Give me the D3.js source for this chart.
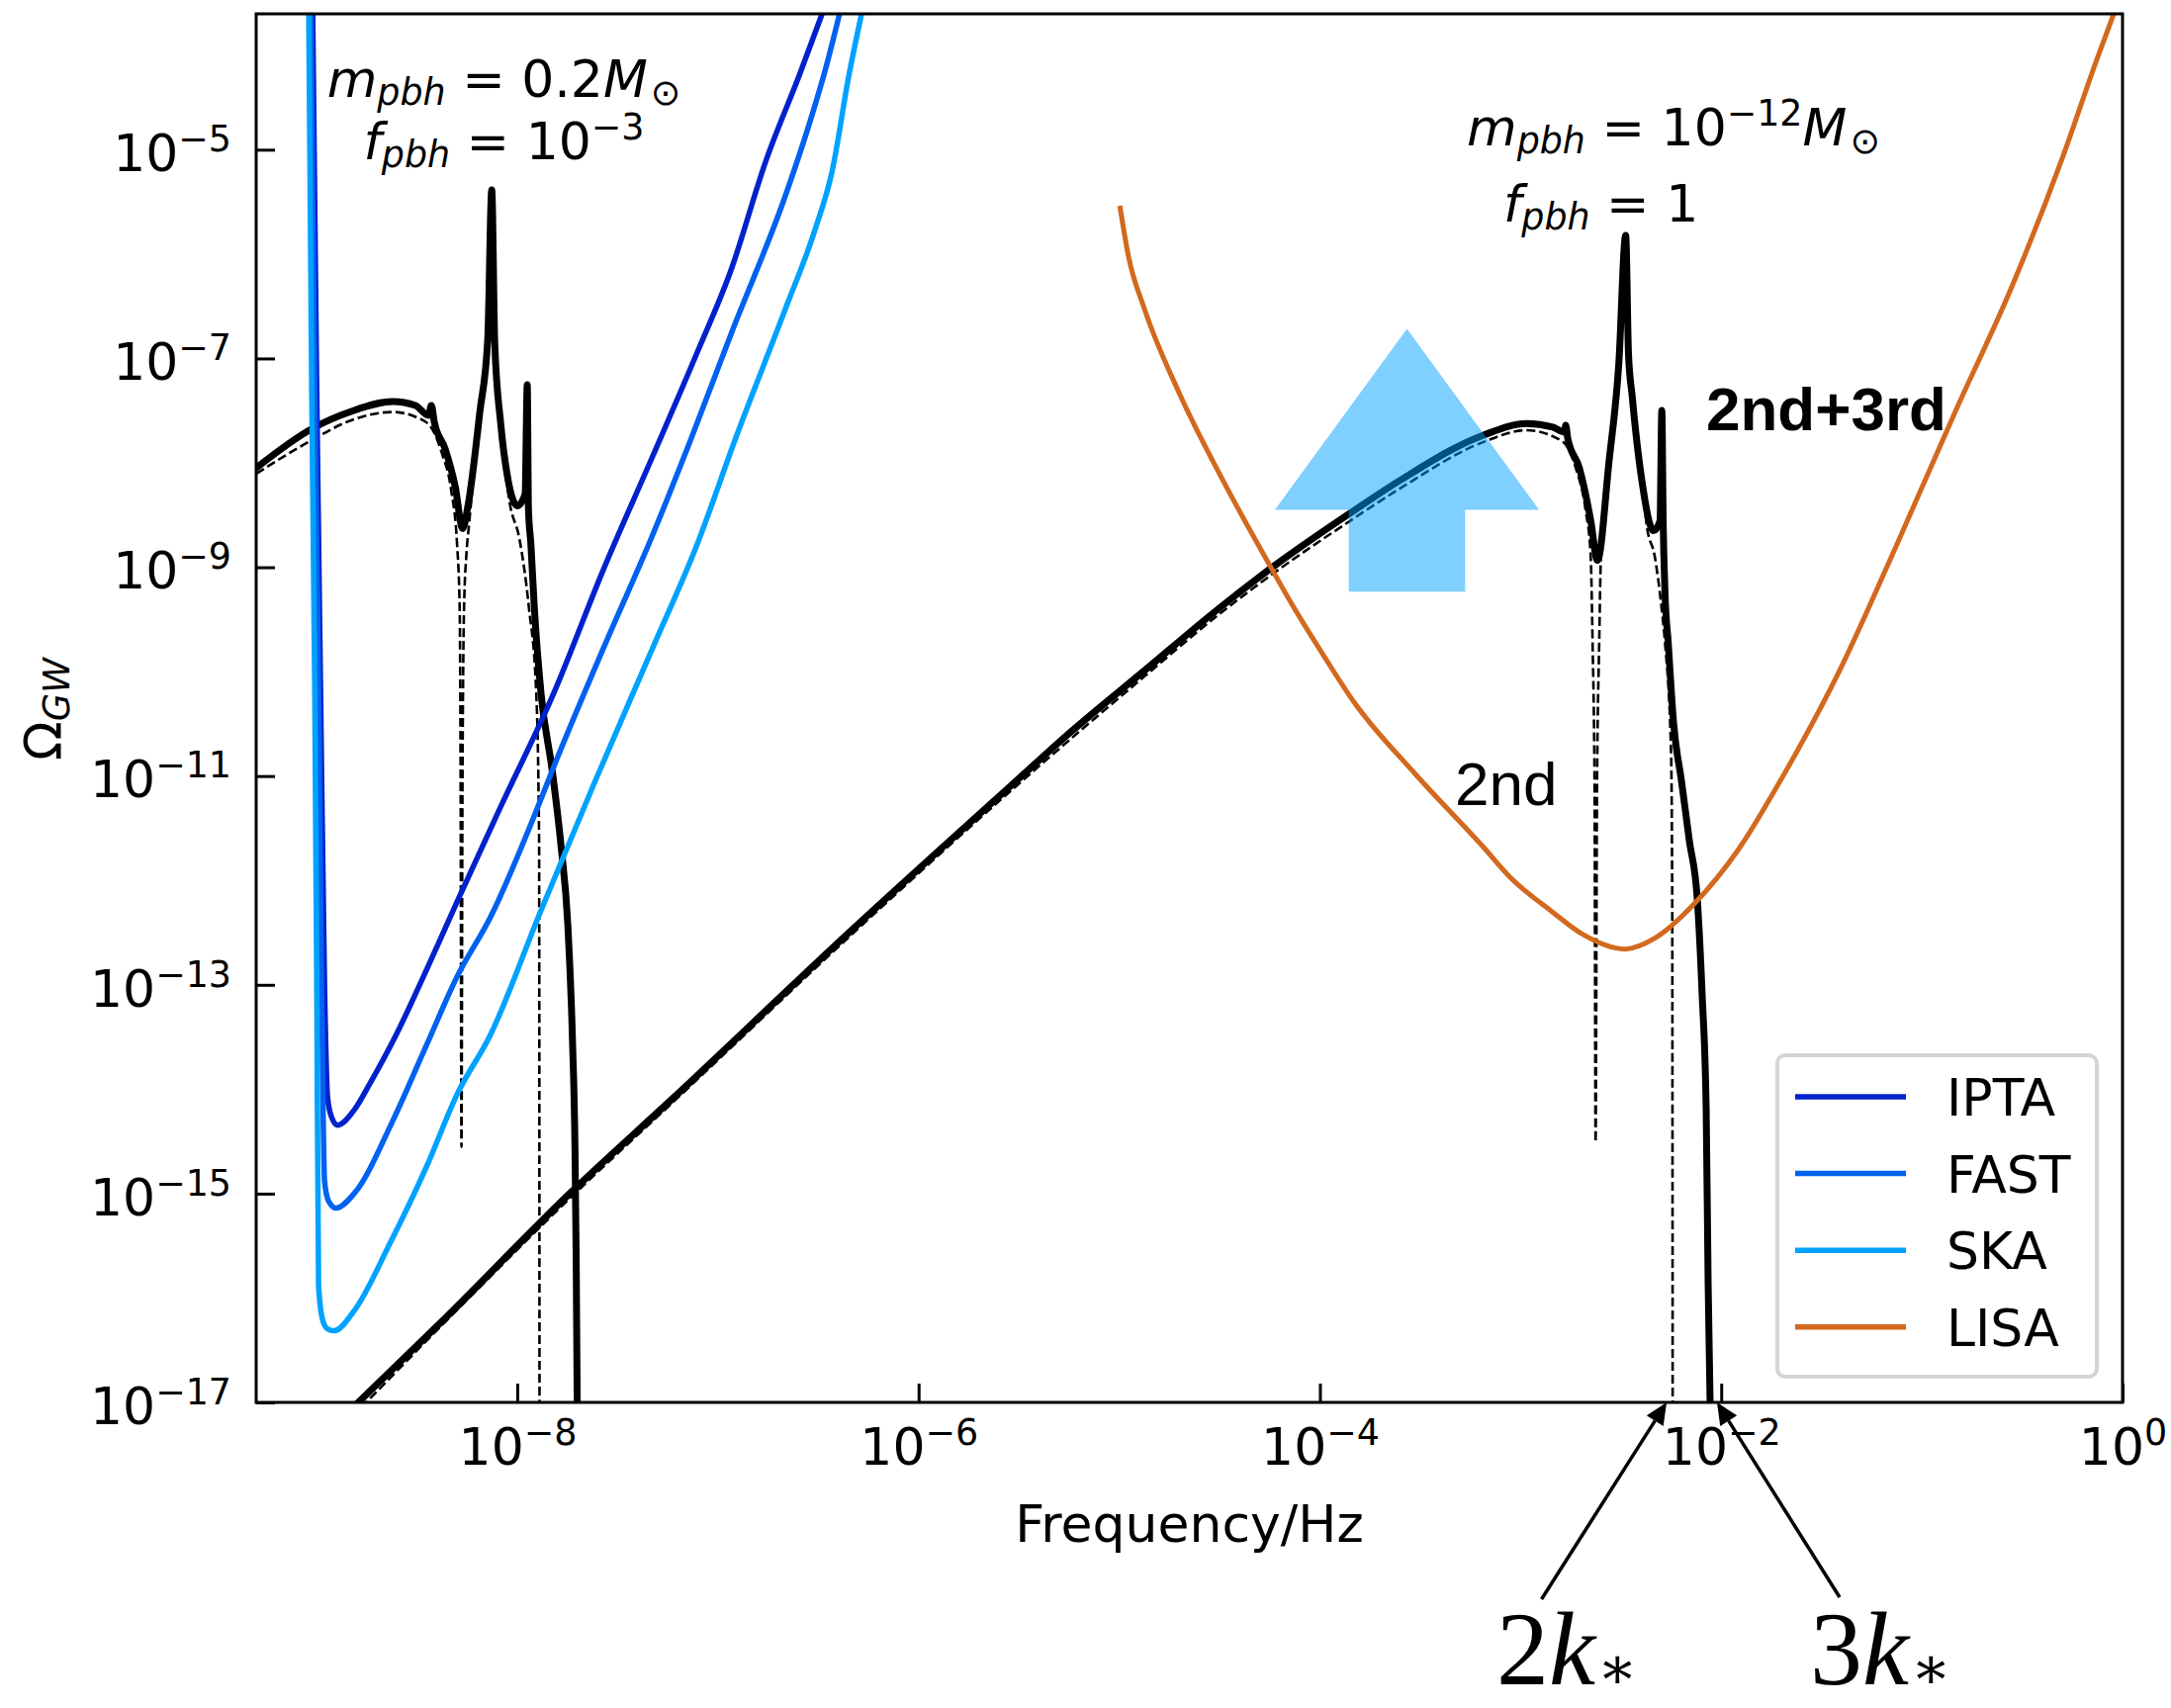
<!DOCTYPE html>
<html>
<head>
<meta charset="utf-8">
<script src="https://cdn.jsdelivr.net/npm/d3@7"></script>
<style>
    body { margin: 0; background: #fff; }
    svg { display: block; }
    text { white-space: pre; }
</style>
</head>
<body>
<svg id="chart" width="2195" height="1727"></svg>
<script>
// Axis ticks
const freqTicks = [1e-8, 1e-6, 1e-4, 1e-2, 1];
const omegaTicks = [1e-5, 1e-7, 1e-9, 1e-11, 1e-13, 1e-15, 1e-17];

const iptaLogF = [-9.019, -8.999, -8.980, -8.960, -8.945, -8.925, -8.896, -8.810, -8.733, -8.602, -8.452, -8.300, -8.092, -7.817, -7.571, -7.326, -7.105, -6.934, -6.762, -6.590, -6.481];
const iptaLogOmega = [-3.700, -7.355, -10.196, -13.037, -14.079, -14.268, -14.344, -14.192, -13.941, -13.473, -12.857, -12.204, -11.333, -10.202, -9.024, -7.941, -6.951, -6.150, -5.114, -4.265, -3.700];

const fastLogF = [-9.029, -9.009, -8.990, -8.975, -8.960, -8.940, -8.904, -8.810, -8.621, -8.452, -8.300, -8.132, -7.905, -7.817, -7.571, -7.326, -7.130, -6.934, -6.664, -6.542, -6.456, -6.394];
const fastLogOmega = [-3.700, -7.355, -10.196, -13.037, -14.884, -15.073, -15.139, -14.993, -14.306, -13.577, -12.923, -12.346, -11.333, -10.906, -9.778, -8.694, -7.752, -6.763, -5.442, -4.737, -4.172, -3.700];

const skaLogF = [-9.039, -9.024, -9.009, -8.999, -8.990, -8.970, -8.946, -8.913, -8.810, -8.640, -8.452, -8.300, -8.132, -7.886, -7.620, -7.326, -7.105, -6.909, -6.664, -6.517, -6.431, -6.345, -6.284];
const skaLogOmega = [-3.700, -7.355, -10.196, -13.037, -15.878, -16.209, -16.295, -16.314, -16.115, -15.499, -14.742, -14.050, -13.473, -12.308, -11.086, -9.778, -8.788, -7.752, -6.527, -5.773, -5.208, -4.266, -3.700];

const lisaLogF = [-4.997, -4.953, -4.874, -4.702, -4.480, -4.238, -4.140, -3.972, -3.834, -3.524, -3.184, -3.051, -2.844, -2.691, -2.479, -2.331, -2.134, -1.917, -1.695, -1.400, -1.119, -0.833, -0.552, -0.296, -0.128, -0.044];
const lisaLogOmega = [-5.537, -6.030, -6.527, -7.327, -8.179, -9.022, -9.353, -9.874, -10.281, -10.982, -11.683, -11.972, -12.298, -12.516, -12.658, -12.554, -12.223, -11.711, -11.011, -9.950, -8.757, -7.507, -6.314, -5.059, -4.136, -3.700];

// Induced GW spectrum, m_pbh = 0.2 Msun (2nd+3rd solid, 2nd dashed)
const heavySolidLogF = [-9.300, -9.019, -8.827, -8.620, -8.507, -8.442, -8.428, -8.413, -8.359, -8.309, -8.272, -8.245, -8.186, -8.147, -8.127, -8.112, -8.083, -8.046, -7.999, -7.961, -7.950, -7.944, -7.932, -7.915, -7.881, -7.826, -7.782, -7.748, -7.725, -7.712, -7.706, -7.701];
const heavySolidLogOmega = [-8.047, -7.668, -7.507, -7.412, -7.450, -7.545, -7.450, -7.611, -7.867, -8.227, -8.629, -8.406, -7.507, -6.816, -5.386, -6.853, -7.611, -8.160, -8.411, -8.302, -7.251, -8.444, -8.776, -9.382, -10.215, -10.944, -11.664, -12.422, -13.511, -14.590, -15.679, -17.05];
const heavyDashedLogF = [-9.300, -9.019, -8.827, -8.620, -8.507, -8.433, -8.376, -8.329, -8.300, -8.287, -8.282, -8.278, -8.273, -8.265, -8.253, -8.240, -8.186, -8.147, -8.127, -8.112, -8.083, -8.038, -7.989, -7.942, -7.905, -7.891, -7.889];
const heavyDashedLogOmega = [-8.103, -7.777, -7.592, -7.513, -7.560, -7.649, -7.905, -8.264, -8.776, -9.382, -11.143, -14.552, -11.143, -9.382, -8.870, -8.586, -7.545, -6.834, -5.461, -6.882, -7.639, -8.378, -8.728, -9.382, -10.215, -11.617, -17.05];

// Induced GW spectrum, m_pbh = 1e-12 Msun
const lightSolidLogF = [-8.819, -8.357, -7.735, -7.225, -6.343, -5.536, -5.242, -4.874, -4.507, -4.219, -3.857, -3.594, -3.184, -2.970, -2.839, -2.781, -2.775, -2.765, -2.707, -2.650, -2.617, -2.559, -2.510, -2.476, -2.462, -2.444, -2.395, -2.337, -2.305, -2.296, -2.289, -2.280, -2.264, -2.237, -2.198, -2.159, -2.119, -2.095, -2.075, -2.065, -2.055];
const lightSolidLogOmega = [-17.05, -16.189, -14.993, -14.088, -12.493, -11.086, -10.579, -9.990, -9.401, -8.975, -8.492, -8.160, -7.734, -7.623, -7.658, -7.706, -7.639, -7.763, -8.049, -8.555, -8.934, -7.987, -7.040, -5.820, -6.958, -7.355, -8.176, -8.650, -8.555, -7.497, -8.586, -9.249, -9.723, -10.499, -11.048, -11.617, -12.185, -13.094, -14.183, -15.878, -17.05];
const lightDashedLogF = [-8.778, -8.359, -7.733, -7.225, -6.343, -5.536, -4.874, -4.507, -4.219, -3.858, -3.593, -3.184, -2.971, -2.789, -2.725, -2.675, -2.651, -2.641, -2.631, -2.626, -2.619, -2.608, -2.600, -2.559, -2.510, -2.476, -2.462, -2.444, -2.395, -2.370, -2.331, -2.296, -2.280, -2.250, -2.244, -2.242];
const lightDashedLogOmega = [-17.05, -16.228, -15.035, -14.126, -12.535, -11.134, -10.045, -9.458, -9.041, -8.567, -8.236, -7.800, -7.687, -7.798, -8.047, -8.463, -8.870, -9.723, -11.143, -14.505, -11.143, -9.723, -8.937, -7.990, -7.043, -5.840, -6.958, -7.355, -8.179, -8.615, -8.899, -9.410, -9.723, -10.764, -12.223, -17.05];

// Big "up" arrow outline (log10 units)
const upArrowLogF = [-3.856, -3.856, -4.224, -3.566, -2.908, -3.276, -3.276];
const upArrowLogOmega = [-9.234, -8.449, -8.449, -6.716, -8.449, -8.449, -9.234];

// Legend
const detectorNames = ['IPTA', 'FAST', 'SKA', 'LISA'];
const detectorColors = ['#0022cc', '#0062f0', '#00a2ff', '#d2691e'];

// 2k*, 3k* pointers: where they point (log10 f)
const kLabels = ['2', '3'];
const kTipLogF = [-2.272, -2.021];

const svg = d3.select('#chart');
const plot = { left: 259, right: 2146, top: 14, bottom: 1418 };
const FS = 52;

const x = d3.scaleLog().domain([5e-10, 1]).range([plot.left, plot.right]);
const y = d3.scaleLog().domain([1e-17, 2e-4]).range([plot.bottom, plot.top]);

const toPoints = (lf, lo) => lf.map((v, i) => ({ f: Math.pow(10, v), o: Math.pow(10, lo[i]) }));
const line = d3.line().x(d => x(d.f)).y(d => y(d.o)).curve(d3.curveMonotoneX);
const polyLine = d3.line().x(d => x(d.f)).y(d => y(d.o));

svg.append('rect').attr('width', 2195).attr('height', 1727).attr('fill', '#fff');

svg.append('defs').append('clipPath').attr('id', 'clip')
    .append('rect')
    .attr('x', plot.left).attr('y', plot.top)
    .attr('width', plot.right - plot.left).attr('height', plot.bottom - plot.top);

const curves = svg.append('g').attr('clip-path', 'url(#clip)');

// black spectra
const drawDashed = pts => curves.append('path')
    .attr('d', line(pts))
    .attr('fill', 'none').attr('stroke', '#000')
    .attr('stroke-width', 2.6).attr('stroke-dasharray', '9,4');
const drawSolid = pts => curves.append('path')
    .attr('d', line(pts))
    .attr('fill', 'none').attr('stroke', '#000')
    .attr('stroke-width', 7).attr('stroke-linejoin', 'round').attr('stroke-linecap', 'round');

drawDashed(toPoints(heavyDashedLogF, heavyDashedLogOmega));
drawSolid(toPoints(heavySolidLogF, heavySolidLogOmega));
drawDashed(toPoints(lightDashedLogF, lightDashedLogOmega));
drawSolid(toPoints(lightSolidLogF, lightSolidLogOmega));

// detectors
const detectorSeries = [
    toPoints(iptaLogF, iptaLogOmega),
    toPoints(fastLogF, fastLogOmega),
    toPoints(skaLogF, skaLogOmega),
    toPoints(lisaLogF, lisaLogOmega)
];
detectorSeries.forEach((pts, i) => {
    curves.append('path')
        .attr('d', line(pts))
        .attr('fill', 'none')
        .attr('stroke', detectorColors[i])
        .attr('stroke-width', i < 3 ? 5.5 : 5)
        .attr('stroke-linejoin', 'round');
});

// translucent up arrow
const arrowPts = toPoints(upArrowLogF, upArrowLogOmega);
curves.append('path')
    .attr('d', polyLine(arrowPts) + 'Z')
    .attr('fill', '#00a0ff')
    .attr('fill-opacity', 0.5);

// frame
svg.append('rect')
    .attr('x', plot.left).attr('y', plot.top)
    .attr('width', plot.right - plot.left).attr('height', plot.bottom - plot.top)
    .attr('fill', 'none').attr('stroke', '#000').attr('stroke-width', 3);

// turn "10^e" label into tspans
function powerLabel(sel, d) {
    const e = Math.round(Math.log10(d));
    sel.text(null);
    sel.append('tspan').text('10');
    sel.append('tspan')
        .attr('dy', -20)
        .attr('font-size', FS * 0.7)
        .text(e < 0 ? '\u2212' + (-e) : String(e));
}

const xAxisG = svg.append('g')
    .attr('transform', `translate(0,${plot.bottom})`)
    .call(d3.axisBottom(x).tickValues(freqTicks).tickSizeInner(-19).tickSizeOuter(0).tickPadding(26));
const yAxisG = svg.append('g')
    .attr('transform', `translate(${plot.left},0)`)
    .call(d3.axisLeft(y).tickValues(omegaTicks).tickSizeInner(-19).tickSizeOuter(0).tickPadding(25));

[xAxisG, yAxisG].forEach(g => {
    g.select('.domain').remove();
    g.attr('font-family', 'DejaVu Sans').attr('font-size', FS);
    g.selectAll('.tick line').attr('stroke', '#000').attr('stroke-width', 3);
    g.selectAll('.tick text').attr('fill', '#000').each(function (d) { powerLabel(d3.select(this), d); });
});
yAxisG.selectAll('.tick text').attr('dy', '0.41em');

// axis titles
svg.append('text')
    .attr('x', (plot.left + plot.right) / 2).attr('y', 1559)
    .attr('text-anchor', 'middle')
    .attr('font-family', 'DejaVu Sans').attr('font-size', FS)
    .text('Frequency/Hz');

const yTitle = svg.append('text')
    .attr('transform', 'translate(62,717) rotate(-90)')
    .attr('text-anchor', 'middle')
    .attr('font-family', 'DejaVu Sans').attr('font-size', FS);
yTitle.append('tspan').text('\u03A9');
yTitle.append('tspan').attr('dy', 8).attr('font-size', FS * 0.7).attr('font-style', 'italic').text('GW');

// mathtext-like annotations
function mathText(px, py, anchor, parts) {
    const t = svg.append('text')
        .attr('x', px).attr('y', py)
        .attr('text-anchor', anchor)
        .attr('font-family', 'DejaVu Sans').attr('font-size', FS);
    let shift = 0;
    parts.forEach(p => {
        const target = p.sub ? 8 : (p.sup ? -20 : 0);
        t.append('tspan')
            .attr('dy', target - shift)
            .attr('dx', p.gap || 0)
            .attr('font-size', (p.sub || p.sup) ? FS * 0.7 : FS)
            .attr('font-style', p.it ? 'italic' : 'normal')
            .text(p.t);
        shift = target;
    });
}

mathText(509.5, 98, 'middle', [
    { t: 'm', it: true }, { t: 'pbh', it: true, sub: true }, { t: ' = 0.2' },
    { t: 'M', it: true }, { t: '\u2299', sub: true, gap: 3 }
]);
mathText(509.5, 161, 'middle', [
    { t: 'f', it: true }, { t: 'pbh', it: true, sub: true }, { t: ' = 10' }, { t: '\u22123', sup: true }
]);
mathText(1483, 147, 'start', [
    { t: 'm', it: true }, { t: 'pbh', it: true, sub: true }, { t: ' = 10' }, { t: '\u221212', sup: true },
    { t: 'M', it: true }, { t: '\u2299', sub: true, gap: 3 }
]);
mathText(1520, 223.5, 'start', [
    { t: 'f', it: true }, { t: 'pbh', it: true, sub: true }, { t: ' = 1' }
]);

svg.append('text')
    .attr('x', 1725).attr('y', 435)
    .attr('font-family', 'Liberation Sans').attr('font-weight', 'bold').attr('font-size', 62)
    .text('2nd+3rd');
svg.append('text')
    .attr('x', 1471).attr('y', 814)
    .attr('font-family', 'Liberation Sans').attr('font-size', 62)
    .text('2nd');

// 2k*, 3k* pointers
const kTailOffsets = [[-126.5, 199], [124, 197]];
const kTextOffsets = [[-172, 285], [94, 285]];
kLabels.forEach((lab, i) => {
    const tx = x(Math.pow(10, kTipLogF[i]));
    const ty = y(1e-17);
    const sx = tx + kTailOffsets[i][0];
    const sy = ty + kTailOffsets[i][1];
    const ang = Math.atan2(ty - sy, tx - sx);
    const hl = 22, hw = 10;
    const bx = tx - hl * Math.cos(ang), by = ty - hl * Math.sin(ang);
    svg.append('line')
        .attr('x1', sx).attr('y1', sy).attr('x2', bx).attr('y2', by)
        .attr('stroke', '#000').attr('stroke-width', 3.5);
    svg.append('polygon')
        .attr('points', [
            [tx, ty],
            [bx + hw * Math.sin(ang), by - hw * Math.cos(ang)],
            [bx - hw * Math.sin(ang), by + hw * Math.cos(ang)]
        ].map(p => p.join(',')).join(' '))
        .attr('fill', '#000');

    const t = svg.append('text')
        .attr('x', tx + kTextOffsets[i][0]).attr('y', ty + kTextOffsets[i][1])
        .attr('font-family', 'Liberation Serif').attr('font-size', 106);
    t.append('tspan').text(lab);
    t.append('tspan').attr('font-style', 'italic').text('k');
    t.append('tspan')
        .attr('font-family', 'DejaVu Serif').attr('font-size', 60)
        .attr('dx', 2).attr('dy', 4)
        .text('\u2217');
});

// legend
const legend = svg.append('g');
legend.append('rect')
    .attr('x', 1797).attr('y', 1067).attr('width', 323).attr('height', 325)
    .attr('rx', 8).attr('fill', '#fff')
    .attr('stroke', '#d5d5d5').attr('stroke-width', 4);
const items = legend.selectAll('g.item').data(detectorNames).enter()
    .append('g').attr('class', 'item')
    .attr('transform', (d, i) => `translate(0,${1109 + i * 77.6})`);
items.append('line')
    .attr('x1', 1815).attr('x2', 1927).attr('y1', 0).attr('y2', 0)
    .attr('stroke', (d, i) => detectorColors[i]).attr('stroke-width', 5.5);
items.append('text')
    .attr('x', 1968).attr('y', 19)
    .attr('font-family', 'DejaVu Sans').attr('font-size', FS)
    .text(d => d);
</script>
</body>
</html>
